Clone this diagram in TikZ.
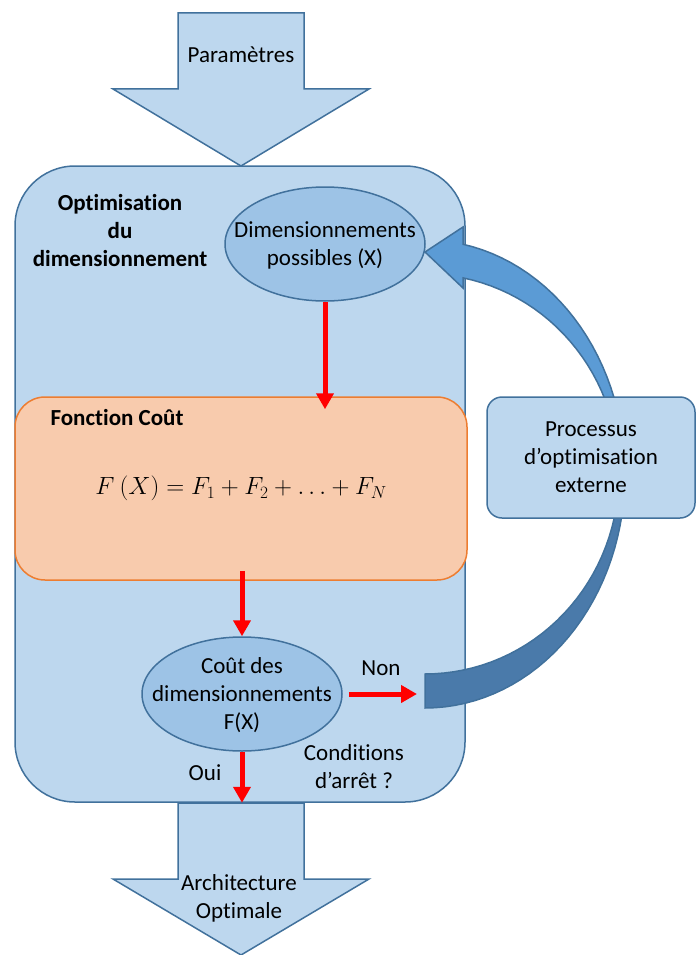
\documentclass[tikz,border=0pt]{standalone}
\usepackage{fontspec}
\setmainfont{Carlito}[Ligatures=NoCommon]
\usetikzlibrary{arrows.meta, shapes.geometric}

\definecolor{boxfill}{HTML}{BDD7EE}
\definecolor{boxline}{HTML}{41719C}
\definecolor{blobfill}{HTML}{9DC3E6}
\definecolor{costfill}{HTML}{F8CBAD}
\definecolor{costline}{HTML}{ED7D31}
\definecolor{bendlight}{HTML}{5B9BD5}
\definecolor{benddark}{HTML}{4A7AAA}
\definecolor{flowred}{HTML}{FF0000}

\newcommand{\bendpath}{plot[domain=-79:90, samples=60] ({425+200*cos(\x)}, {474+234*sin(\x)})
  -- (425,674)
  -- plot[domain=90:-78.7, samples=60] ({425+194*cos(\x)}, {474+200*sin(\x)})
  -- (463,288) -- (425,252) -- (463,227) -- cycle}
\newcommand{\blobtext}[1]{\makebox[0pt]{\smash{\raisebox{-8pt}{\begin{tabular}{@{}c@{}}#1\end{tabular}}}}}

\begin{document}
\begin{tikzpicture}[
  x=1pt, y=-1pt,
  >={Triangle[length=16pt, width=17pt]},
  every node/.style={font=\fontsize{23}{28}\selectfont, text=black},
  blockarrow/.style={draw=boxline, fill=boxfill, line width=1.5pt, line join=miter},
  bigbox/.style={draw=boxline, fill=boxfill, line width=1.5pt, rounded corners=60pt,
    minimum width=450pt, minimum height=636pt},
  costbox/.style={draw=costline, fill=costfill, line width=1.5pt, rounded corners=30pt,
    minimum width=452pt, minimum height=183pt},
  blob/.style={draw=boxline, fill=blobfill, line width=1.5pt, ellipse, inner sep=0pt,
    minimum width=200pt, minimum height=114pt},
  sidebox/.style={draw=boxline, fill=boxfill, line width=1.5pt, rounded corners=15pt,
    minimum width=208pt, minimum height=121pt, align=center},
  flow/.style={->, draw=flowred, line width=5pt},
  heading/.style={font=\fontsize{23}{28}\selectfont\bfseries, align=center}
]
  \useasboundingbox (0,0) rectangle (697,955);

  \draw[blockarrow] (178,13) -- (304,13) -- (304,89) -- (369,89) -- (241,166)
    -- (113,89) -- (178,89) -- cycle;
  \draw[blockarrow] (178,803) -- (304,803) -- (304,879) -- (369,879) -- (241,955)
    -- (113,879) -- (178,879) -- cycle;

  \node[bigbox] (main) at (240,484) {};
  \node (params) at (241,55) {Paramètres};
  \node[align=center] (archi) at (239,898) {Architecture\\Optimale};
  \node[heading] (title) at (120,231) {Optimisation\\du\\dimensionnement};

  \node[costbox] (fonction) at (241,488.5) {$F\ (X) = F_1 + F_2 + \ldots + F_N$};
  \node[heading, anchor=base west] (fonctitle) at (47,425) {Fonction Coût};

  \node[blob] (dims) at (325,244) {\blobtext{Dimensionnements\\possibles (X)}};
  \node[blob] (cost) at (242,694) {\blobtext{Coût des\\dimensionnements\\F(X)}};

  \coordinate (loopin) at (425,690);
  \fill[bendlight] \bendpath;
  \begin{scope}
    \clip (400,474) rectangle (697,760);
    \fill[benddark] \bendpath;
  \end{scope}
  \draw[boxline, line width=1.5pt, line join=miter] \bendpath;

  \node[sidebox] (extern) at (591,457.5) {Processus\\d’optimisation\\externe};

  \draw[flow] (dims.south) -- ([yshift=-13pt]fonction.north -| dims.south);
  \draw[flow] ([yshift=10pt]fonction.south -| cost.north) -- (cost.north);
  \draw[flow] ([xshift=6pt]cost.east) -- ([xshift=-8pt]cost.east -| loopin);
  \draw[flow] (cost.south) -- (cost.south |- main.south);

  \node[anchor=base] (non) at (381,675) {Non};
  \node[anchor=base] (oui) at (205,780) {Oui};
  \node[align=center] (stop) at (354,767) {Conditions\\d’arrêt ?};
\end{tikzpicture}
\end{document}
